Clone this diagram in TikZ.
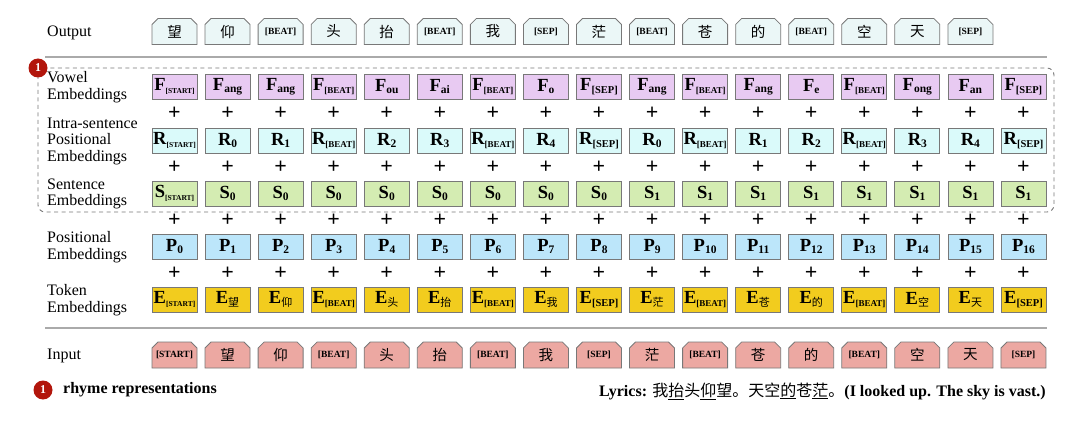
\documentclass[tikz,border=0pt]{standalone}
\usepackage{fontspec}
\setmainfont{Liberation Serif}
\newfontfamily\cjk{Noto Sans CJK SC}
\usetikzlibrary{shapes.misc,calc}
\definecolor{boxgray}{RGB}{120,120,120}
\definecolor{sepgray}{RGB}{170,170,170}
\definecolor{outfill}{RGB}{235,247,247}
\definecolor{ffill}{RGB}{232,202,242}
\definecolor{rfill}{RGB}{218,250,250}
\definecolor{sfill}{RGB}{212,236,178}
\definecolor{pfill}{RGB}{188,230,250}
\definecolor{efill}{RGB}{242,204,30}
\definecolor{infill}{RGB}{236,168,162}
\definecolor{rhymered}{RGB}{178,22,12}
\newcommand\subX[1]{\raisebox{-2.5pt}{\fontsize{11.5}{11.5}\selectfont\bfseries #1}}
\newcommand\subB{\raisebox{-2.5pt}{\fontsize{9}{9}\selectfont\bfseries [BEAT]}}
\newcommand\subS{\raisebox{-2.5pt}{\fontsize{7.5}{7.5}\selectfont\bfseries [START]}}
\newcommand\subP{\raisebox{-2.5pt}{\fontsize{10.5}{10.5}\selectfont\bfseries [SEP]}}
\newcommand\subC[1]{\raisebox{-2.5pt}{\fontsize{11}{11}\selectfont\cjk\mdseries #1}}
\newcommand\tokS[1]{{\fontsize{9.5}{10}\selectfont\bfseries #1}}
\newcommand\tokC[1]{{\fontsize{14.5}{14.5}\selectfont\cjk #1}}
\begin{document}
\begin{tikzpicture}[x=1pt,y=-1pt,
  box/.style={draw=boxgray, line width=0.8pt, minimum width=45pt, minimum height=25pt, inner sep=0pt, font=\fontsize{18.5}{18.5}\selectfont\bfseries},
  tok/.style={chamfered rectangle, chamfered rectangle corners={north west,north east}, chamfered rectangle xsep=3pt, chamfered rectangle ysep=3pt, draw=boxgray, line width=0.8pt, minimum width=45pt, minimum height=26pt, inner sep=0pt},
  lbl/.style={anchor=west, align=left, font=\fontsize{16}{16.5}\selectfont, inner sep=0pt},
  plus/.style={font=\fontsize{22}{22}\selectfont\bfseries, inner sep=0pt},
  sepline/.style={draw=sepgray, line width=1.5pt},
  dbox/.style={draw=boxgray, line width=0.9pt, dash pattern=on 4pt off 3.5pt, rounded corners=7pt},
  badge/.style={circle, fill=rhymered, minimum size=19pt, inner sep=0pt, text=white, font=\fontsize{12}{12}\selectfont\bfseries}
]
\useasboundingbox (0,0) rectangle (1080,425);

% separators and dashed frame
\draw[sepline] (45,57) -- (1047,57);
\draw[sepline] (45,328) -- (1047,328);
\draw[dbox] (38,68) rectangle (1054,212);

% row labels
\node[lbl] (lout) at (47,33) {Output};
\node[lbl] (lf) at (47,87) {Vowel\\Embeddings};
\node[lbl] (lr) at (47,141) {Intra-sentence\\Positional\\Embeddings};
\node[lbl] (ls) at (47,194) {Sentence\\Embeddings};
\node[lbl] (lp) at (47,247) {Positional\\Embeddings};
\node[lbl] (le) at (47,300) {Token\\Embeddings};
\node[lbl] (lin) at (47,356) {Input};

% output tokens
\foreach \i/\t in {0/{\tokC{望}},1/{\tokC{仰}},2/{\tokS{[BEAT]}},3/{\tokC{头}},4/{\tokC{抬}},5/{\tokS{[BEAT]}},6/{\tokC{我}},7/{\tokS{[SEP]}},8/{\tokC{茫}},9/{\tokS{[BEAT]}},10/{\tokC{苍}},11/{\tokC{的}},12/{\tokS{[BEAT]}},13/{\tokC{空}},14/{\tokC{天}},15/{\tokS{[SEP]}}}
  \node[tok, fill=outfill] (out\i) at ({174.5+53.06*\i},31.5) {\t};

% vowel embeddings
\foreach \i/\t in {0/\subS,1/{\subX{ang}},2/{\subX{ang}},3/\subB,4/{\subX{ou}},5/{\subX{ai}},6/\subB,7/{\subX{o}},8/\subP,9/{\subX{ang}},10/\subB,11/{\subX{ang}},12/{\subX{e}},13/\subB,14/{\subX{ong}},15/{\subX{an}},16/\subP}
  \node[box, fill=ffill] (f\i) at ({174.5+53.06*\i},86.5) {F\t};

% intra-sentence positional
\foreach \i/\t in {0/\subS,1/{\subX{0}},2/{\subX{1}},3/\subB,4/{\subX{2}},5/{\subX{3}},6/\subB,7/{\subX{4}},8/\subP,9/{\subX{0}},10/\subB,11/{\subX{1}},12/{\subX{2}},13/\subB,14/{\subX{3}},15/{\subX{4}},16/\subP}
  \node[box, fill=rfill] (r\i) at ({174.5+53.06*\i},140.5) {R\t};

% sentence
\node[box, fill=sfill] (s0) at (174.5,193.5) {S\subS};
\foreach \i in {1,...,8}
  \node[box, fill=sfill] (s\i) at ({174.5+53.06*\i},193.5) {S\subX{0}};
\foreach \i in {9,...,16}
  \node[box, fill=sfill] (s\i) at ({174.5+53.06*\i},193.5) {S\subX{1}};

% positional
\foreach \i in {0,...,16}
  \node[box, fill=pfill] (p\i) at ({174.5+53.06*\i},246.5) {P\subX{\i}};

% token embeddings
\foreach \i/\t in {0/\subS,1/{\subC{望}},2/{\subC{仰}},3/\subB,4/{\subC{头}},5/{\subC{抬}},6/\subB,7/{\subC{我}},8/\subP,9/{\subC{茫}},10/\subB,11/{\subC{苍}},12/{\subC{的}},13/\subB,14/{\subC{空}},15/{\subC{天}},16/\subP}
  \node[box, fill=efill] (e\i) at ({174.5+53.06*\i},299.5) {E\t};

% input tokens
\foreach \i/\t in {0/{\tokS{[START]}},1/{\tokC{望}},2/{\tokC{仰}},3/{\tokS{[BEAT]}},4/{\tokC{头}},5/{\tokC{抬}},6/{\tokS{[BEAT]}},7/{\tokC{我}},8/{\tokS{[SEP]}},9/{\tokC{茫}},10/{\tokS{[BEAT]}},11/{\tokC{苍}},12/{\tokC{的}},13/{\tokS{[BEAT]}},14/{\tokC{空}},15/{\tokC{天}},16/{\tokS{[SEP]}}}
  \node[tok, fill=infill] (in\i) at ({174.5+53.06*\i},355) {\t};

% plus signs
\foreach \i in {0,...,16}{
  \node[plus] (pa\i) at ($(f\i)!0.5!(r\i)$) {+};
  \node[plus] (pb\i) at ($(r\i)!0.5!(s\i)$) {+};
  \node[plus] (pc\i) at ($(s\i)!0.5!(p\i)$) {+};
  \node[plus] (pd\i) at ($(p\i)!0.5!(e\i)$) {+};
}

% badges and legend
\node[badge] (b1) at (38,68) {1};
\node[badge] (b2) at (43,390) {1};
\node[anchor=west, inner sep=0pt, font=\fontsize{16}{16}\selectfont\bfseries] (legt) at (63,390) {rhyme representations};

\node[anchor=east, inner sep=0pt, font=\fontsize{16}{16}\selectfont\bfseries] (lyr) at (1046,391)
  {Lyrics: {\cjk\mdseries 我\underline{抬}头\underline{仰}望。天空\underline{的}苍\underline{茫}。}(I looked up. The sky is vast.)};
\end{tikzpicture}
\end{document}
